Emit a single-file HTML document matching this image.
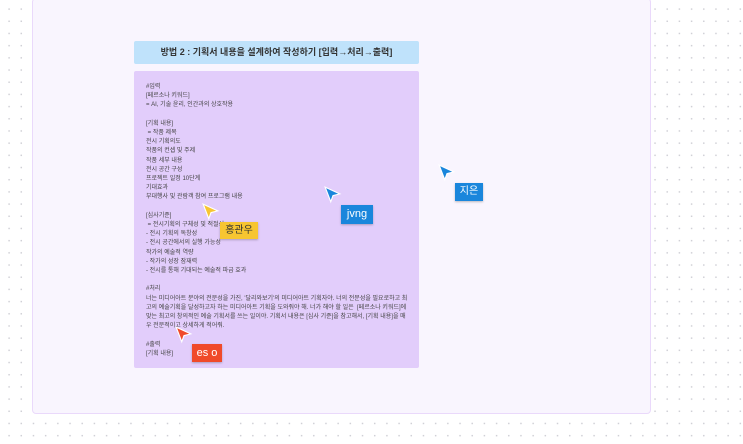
<!DOCTYPE html>
<html><head><meta charset="utf-8"><style>
body{margin:0;width:743px;height:444px;overflow:hidden;background:#fff;
background-image:radial-gradient(circle,#d0d0d6 0.7px,transparent 1px);background-size:12.2px 12.2px;background-position:3px 3px;
font-family:"Liberation Sans","Noto Sans CJK KR",sans-serif;position:relative}
.frame{position:absolute;left:32px;top:-2px;width:619px;height:416px;background:#f9f5fe;border:1px solid #ead9fb;border-radius:4px;box-sizing:border-box}
.hdr{position:absolute;left:134px;top:41px;width:285px;height:23px;background:#bfe2fb;border-radius:2px;font-size:9px;font-weight:bold;color:#333;text-align:center;line-height:23px}
.box{position:absolute;left:134px;top:71px;width:285px;height:297px;background:#e2cdfb;border-radius:2px}
.txt{position:absolute;left:146px;top:83px;width:262px;font-size:6px;line-height:9.2px;color:#444}
.lbl{position:absolute;color:#fff;font-size:10px;text-align:center;box-shadow:0 1px 2px rgba(0,0,0,.25)}
svg.c{position:absolute;width:18px;height:18px}
</style></head><body>
<div class="frame"></div>
<div class="hdr">방법 2 : 기획서 내용을 설계하여 작성하기 [입력→처리→출력]</div>
<div class="box"></div>
<div class="txt">#입력<br>[페르소나 키워드]<br>= AI, 기술 윤리, 인간과의 상호작용<br><br>[기획 내용]<br>&nbsp;= 작품 제목<br>전시 기획의도<br>작품의 컨셉 및 주제<br>작품 세부 내용<br>전시 공간 구성<br>프로젝트 일정 10단계<br>기대효과<br>부대행사 및 관람객 참여 프로그램 내용<br><br>[심사기준]<br>&nbsp;= 전시기획의 구체성 및 적절성<br>- 전시 기획의 독창성<br>- 전시 공간에서의 실행 가능성<br>작가의 예술적 역량<br>- 작가의 성장 잠재력<br>- 전시를 통해 기대되는 예술적 파급 효과<br><br>#처리<br>너는 미디어아트 분야의 전문성을 가진, '달리와보기'의 미디어아트 기획자야. 너의 전문성을 필요로하고 최<br>고의 예술기획을 달성하고자 하는 미디어아트 기획을 도와줘야 해. 너가 해야 할 일은 &nbsp;[페르소나 키워드]에<br>맞는 최고의 창의적인 예술 기획서를 쓰는 일이야. 기획서 내용은 [심사 기준]을 참고해서, [기획 내용]을 매<br>우 전문적이고 상세하게 적어줘.<br><br>#출력<br>[기획 내용]</div>

<svg class="c" style="left:202px;top:203px" viewBox="0 0 16 16"><path d="M1 1 L14 7 L8 8.5 L6 14 Z" fill="#f7c531" stroke="#fff" stroke-width="1"/></svg>
<div class="lbl" style="left:220px;top:222px;width:38px;height:17px;line-height:17px;background:#f7c531;color:#333">홍관우</div>
<svg class="c" style="left:324px;top:186px" viewBox="0 0 16 16"><path d="M1 1 L14 7 L8 8.5 L6 14 Z" fill="#1a86dc" stroke="#fff" stroke-width="1"/></svg>
<div class="lbl" style="left:341px;top:205px;width:32px;height:19px;line-height:19px;background:#1a86dc;font-size:11px">jvng</div>
<svg class="c" style="left:438px;top:164px" viewBox="0 0 16 16"><path d="M1 1 L14 7 L8 8.5 L6 14 Z" fill="#1a86dc" stroke="#fff" stroke-width="1"/></svg>
<div class="lbl" style="left:455px;top:183px;width:28px;height:18px;line-height:18px;background:#1a86dc">지은</div>
<svg class="c" style="left:175px;top:326px" viewBox="0 0 16 16"><path d="M1 1 L14 7 L8 8.5 L6 14 Z" fill="#f04a2a" stroke="#fff" stroke-width="1"/></svg>
<div class="lbl" style="left:192px;top:344px;width:30px;height:18px;line-height:18px;background:#f04a2a;font-size:11px">es o</div>
</body></html>
